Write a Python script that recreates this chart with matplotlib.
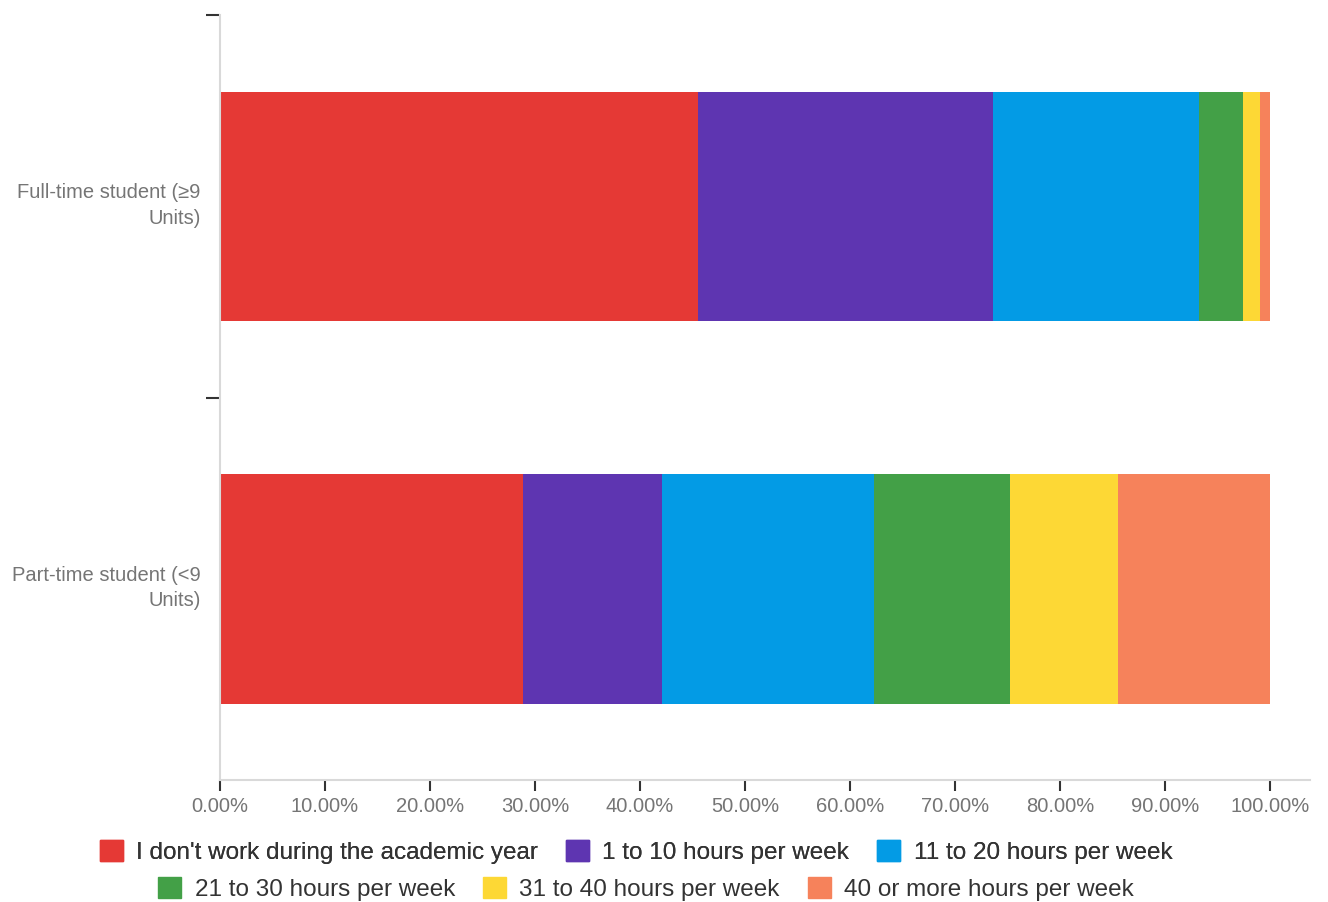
import numpy as np
import matplotlib.pyplot as plt
from matplotlib.patches import Patch
from matplotlib.ticker import FuncFormatter
from matplotlib.transforms import ScaledTranslation

groups = ['Full-time student (≥9\nUnits)', 'Part-time student (<9\nUnits)']
series = ["I don't work during the academic year", '1 to 10 hours per week',
          '11 to 20 hours per week', '21 to 30 hours per week',
          '31 to 40 hours per week', '40 or more hours per week']
full_time = [45.50, 28.15, 19.62, 4.19, 1.62, 0.92]
part_time = [28.89, 13.21, 20.22, 12.95, 10.23, 14.50]
colors = ['#E53935', '#5E35B1', '#039BE5', '#43A047', '#FDD835', '#F6825B']

plt.rcParams['font.family'] = ['Liberation Sans', 'DejaVu Sans']

fig = plt.figure(figsize=(13.28, 9.02), dpi=100)
ax = fig.add_axes([220 / 1328, 1 - 780 / 902, 1090 / 1328, 765 / 902])

vals = np.array([full_time, part_time])
y = np.arange(len(groups))
left = np.zeros(len(groups))
for i, name in enumerate(series):
    ax.barh(y, vals[:, i], left=left, height=0.6, color=colors[i], label=name)
    left += vals[:, i]

ax.set_xlim(0, 103.8)
ax.set_ylim(1.5, -0.5)
ax.set_xticks(np.arange(0, 101, 10))
ax.xaxis.set_major_formatter(FuncFormatter(lambda v, p: f'{v:.2f}%'))
ax.set_yticks(y)
ax.set_yticklabels(groups)
ax.set_yticks([-0.5, 0.5], minor=True)

for s in ['top', 'right']:
    ax.spines[s].set_visible(False)
for s in ['left', 'bottom']:
    ax.spines[s].set_color('#D9D9D9')
    ax.spines[s].set_linewidth(1.5)

ax.tick_params(axis='x', length=8, width=1.5, color='#333333', labelcolor='#757575',
               labelsize=14.5, pad=4)
ax.tick_params(axis='y', which='major', length=0, labelcolor='#757575', labelsize=14.5, pad=14)
ax.tick_params(axis='y', which='minor', length=10, width=1.5, color='#333333')
shift = ScaledTranslation(0, 6 / 100, fig.dpi_scale_trans)
for lbl in ax.get_yticklabels():
    lbl.set_multialignment('right')
    lbl.set_linespacing(1.45)
    lbl.set_transform(lbl.get_transform() + shift)

handles = [Patch(color=c, label=s) for c, s in zip(colors, series)]
leg1 = fig.legend(handles=handles[:3], loc='center', bbox_to_anchor=(636 / 1328, 1 - 852 / 902),
                  ncol=3, frameon=False, fontsize=17.5, handlelength=0.95, handleheight=0.95,
                  handletextpad=0.55, columnspacing=1.15, labelcolor='#333333')
leg2 = fig.legend(handles=handles[3:], loc='center', bbox_to_anchor=(646 / 1328, 1 - 889 / 902),
                  ncol=3, frameon=False, fontsize=17.5, handlelength=0.95, handleheight=0.95,
                  handletextpad=0.55, columnspacing=1.15, labelcolor='#333333')
fig.add_artist(leg1)

fig.savefig('out.png', dpi=100)
